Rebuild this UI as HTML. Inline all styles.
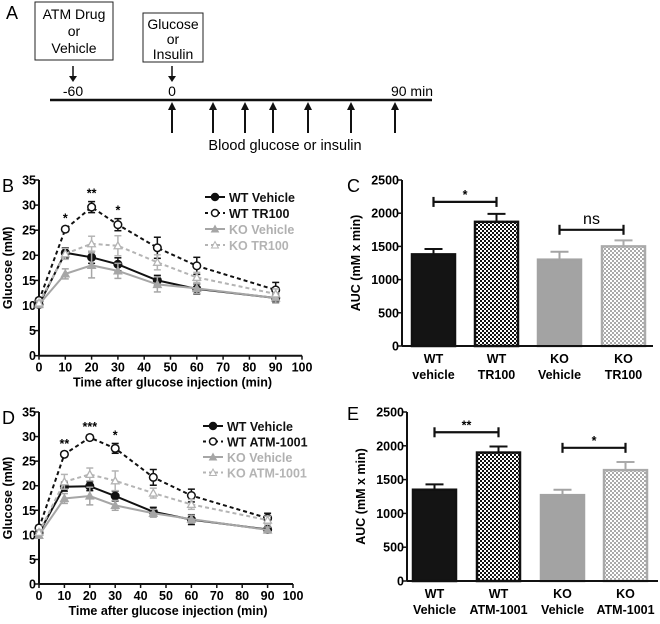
<!DOCTYPE html>
<html><head><meta charset="utf-8"><style>
body{margin:0;background:#fff;}
svg{display:block;font-family:"Liberation Sans",Arial,sans-serif;}
.t{font-weight:bold;font-size:12.5px;}
</style></head><body>
<svg id="fig" width="660" height="624" viewBox="0 0 660 624">
<defs>
<pattern id="chkB" width="4" height="4" patternUnits="userSpaceOnUse"><rect width="4" height="4" fill="#fff"/><rect width="2" height="2" fill="#111"/><rect x="2" y="2" width="2" height="2" fill="#111"/></pattern>
<pattern id="chkG" width="4" height="4" patternUnits="userSpaceOnUse"><rect width="4" height="4" fill="#fff"/><rect width="2" height="2" fill="#aaa"/><rect x="2" y="2" width="2" height="2" fill="#aaa"/></pattern>
</defs>
<g>
<text x="6" y="19" font-size="18">A</text>
<rect x="35" y="2" width="78" height="58" fill="none" stroke="#222"/>
<text x="74" y="19" font-size="14" text-anchor="middle">ATM Drug</text>
<text x="74" y="36" font-size="14" text-anchor="middle">or</text>
<text x="74" y="53" font-size="14" text-anchor="middle">Vehicle</text>
<rect x="143" y="13" width="60" height="49" fill="none" stroke="#222"/>
<text x="173" y="29" font-size="14" text-anchor="middle">Glucose</text>
<text x="173" y="44" font-size="14" text-anchor="middle">or</text>
<text x="173" y="59" font-size="14" text-anchor="middle">Insulin</text>
<line x1="73" y1="66" x2="73" y2="80" stroke="#111" stroke-width="1.5"/><polygon points="69,76 77,76 73,82" fill="#111"/>
<line x1="172" y1="66" x2="172" y2="80" stroke="#111" stroke-width="1.5"/><polygon points="168,76 176,76 172,82" fill="#111"/>
<text x="73" y="96" font-size="14" text-anchor="middle">-60</text>
<text x="172" y="96" font-size="14" text-anchor="middle">0</text>
<text x="433" y="96" font-size="14" text-anchor="end">90 min</text>
<line x1="50" y1="100" x2="432" y2="100" stroke="#111" stroke-width="2.5"/>
<g id="arrows"></g>
<text x="285" y="150" font-size="14.5" text-anchor="middle">Blood glucose or insulin</text>
</g>
<text x="2" y="192" font-size="18">B</text>
<text x="347" y="192" font-size="18">C</text>
<text x="2" y="424" font-size="18">D</text>
<text x="347" y="420" font-size="18">E</text>
<g id="pb"></g>
<g id="pc"></g>
<g id="pd"></g>
<g id="pe"></g>
</svg>
<script>
const times=[0,10,20,30,45,60,90];
const xTicks=[0,10,20,30,40,50,60,70,80,90,100];
const yTicksG=[0,5,10,15,20,25,30,35];
const yTicksA=[0,500,1000,1500,2000,2500];
const bWtVeh=[10.2,20.5,19.6,18.2,15.0,13.3,11.5];
const bWtVehErr=[0.5,1.0,1.2,1.3,1.0,1.0,0.8];
const bWtTr=[11.0,25.2,29.6,26.1,21.5,17.9,13.1];
const bWtTrErr=[0.5,0.5,1.1,1.2,2.1,1.7,1.5];
const bKoVeh=[10.2,16.3,18.0,16.9,14.2,13.4,11.5];
const bKoVehErr=[0.6,1.0,2.5,1.5,1.5,1.0,1.0];
const bKoTr=[10.5,20.3,22.3,21.9,18.6,15.6,12.3];
const bKoTrErr=[0.5,1.1,1.5,2.0,1.5,1.0,1.0];
const bStars=["*","**","*"];
const bStarTimes=[10,20,30];
const dWtVeh=[10.4,19.8,19.9,17.9,14.7,13.1,11.1];
const dWtVehErr=[0.5,0.9,0.9,1.0,0.9,1.0,0.6];
const dWtAtm=[11.4,26.4,29.8,27.6,21.7,18.0,13.4];
const dWtAtmErr=[0.5,0.5,0.5,1.0,1.6,1.3,1.0];
const dKoVeh=[9.9,17.4,17.9,16.0,14.4,13.2,11.0];
const dKoVehErr=[0.6,1.0,1.8,1.0,0.8,0.8,0.6];
const dKoAtm=[10.5,20.8,22.3,21.0,18.5,16.2,13.0];
const dKoAtmErr=[0.5,1.5,1.3,2.0,1.0,1.0,0.8];
const dStars=["**","***","*"];
const dStarTimes=[10,20,30];
const cCats=[["WT","vehicle"],["WT","TR100"],["KO","Vehicle"],["KO","TR100"]];
const cVals=[1380,1870,1300,1500];
const cErr=[80,120,120,90];
const eCats=[["WT","Vehicle"],["WT","ATM-1001"],["KO","Vehicle"],["KO","ATM-1001"]];
const eVals=[1350,1900,1270,1640];
const eErr=[80,90,80,120];

const NS="http://www.w3.org/2000/svg";
function mk(p,tag,a,txt){const e=document.createElementNS(NS,tag);for(const k in a)e.setAttribute(k,a[k]);if(txt!==undefined)e.textContent=txt;p.appendChild(e);return e;}

// timeline arrows (schematic, not to scale)
const ar=document.getElementById('arrows');
[172,213,245,273,308,351,395].forEach(x=>{
  const g=mk(ar,'g',{});
  
  
  mk(g,'line',{x1:x,y1:133,x2:x,y2:108,stroke:'#111','stroke-width':2});
  mk(g,'polygon',{points:`${x-4},110 ${x+4},110 ${x},102`,fill:'#111'});
});

function lineChart(gid,o){
  const g=document.getElementById(gid);
  const X=v=>o.x0+v*(o.x1-o.x0)/100, Y=v=>o.y0-v*(o.y0-o.y1)/35;
  const ax=mk(g,'g',{});
  
  mk(ax,'line',{x1:o.x0,y1:o.y0,x2:o.x1,y2:o.y0,stroke:'#111','stroke-width':2});
  xTicks.forEach(t=>{mk(ax,'line',{x1:X(t),y1:o.y0,x2:X(t),y2:o.y0+4,stroke:'#111','stroke-width':1.5});
    const tl=mk(ax,'text',{x:X(t),y:o.y0+16,'text-anchor':'middle',class:'t'},t);
    });
  const ay=mk(g,'g',{});
  
  mk(ay,'line',{x1:o.x0,y1:o.y0,x2:o.x0,y2:o.y1,stroke:'#111','stroke-width':2});
  yTicksG.forEach(t=>{mk(ay,'line',{x1:o.x0-4,y1:Y(t),x2:o.x0,y2:Y(t),stroke:'#111','stroke-width':1.5});
    const tl=mk(ay,'text',{x:o.x0-3,y:Y(t)+4.5,'text-anchor':'end',class:'t'},t);
    });
  const xt=mk(g,'text',{x:(o.x0+o.x1)/2+2,y:o.y0+31,'text-anchor':'middle',class:'t','font-size':'13.5'},'Time after glucose injection (min)');
  
  const yt=mk(g,'text',{x:0,y:0,transform:`translate(${o.x0-27},${Y(17.5)}) rotate(-90)`,'text-anchor':'middle',class:'t','font-size':'13.5'},'Glucose (mM)');
  
  o.series.forEach((s,si)=>{
    const sg=mk(g,'g',{});
    
    
    const pts=times.map((t,i)=>X(t)+','+Y(s.v[i])).join(' ');
    mk(sg,'polyline',{points:pts,fill:'none',stroke:s.c,'stroke-width':2,'stroke-dasharray':s.dash?'4,3':'none'});
    times.forEach((t,i)=>{
      const x=X(t),yt2=Y(s.v[i]+s.e[i]),yb=Y(s.v[i]-s.e[i]);
      mk(sg,'line',{x1:x,y1:yt2,x2:x,y2:yb,stroke:s.c,'stroke-width':1.5});
      mk(sg,'line',{x1:x-3.5,y1:yt2,x2:x+3.5,y2:yt2,stroke:s.c,'stroke-width':1.5});
      mk(sg,'line',{x1:x-3.5,y1:yb,x2:x+3.5,y2:yb,stroke:s.c,'stroke-width':1.5});
      let m;
      const y=Y(s.v[i]);
      if(s.m==='c') m=mk(sg,'circle',{cx:x,cy:y,r:3.8,fill:s.fill?s.c:'#fff',stroke:s.c,'stroke-width':1.5});
      else m=mk(sg,'polygon',{points:`${x-3.8},${y+3} ${x+3.8},${y+3} ${x},${y-3.8}`,fill:s.fill?s.c:'#fff',stroke:s.c,'stroke-width':1.3});
      
    });
    const ly=o.ly+si*o.lstep;
    const lg=mk(g,'g',{});
    
    mk(lg,'line',{x1:o.lx,y1:ly,x2:o.lx+20,y2:ly,stroke:s.c,'stroke-width':2,'stroke-dasharray':s.dash?'3,3':'none'});
    const cx=o.lx+10;
    if(s.m==='c') mk(lg,'circle',{cx:cx,cy:ly,r:3.5,fill:s.fill?s.c:'#fff',stroke:s.c,'stroke-width':1.5});
    else mk(lg,'polygon',{points:`${cx-3.5},${ly+3} ${cx+3.5},${ly+3} ${cx},${ly-3.5}`,fill:s.fill?s.c:'#fff',stroke:s.c});
    mk(lg,'text',{x:o.lx+24,y:ly+5,class:'t','font-size':'14.5',fill:s.tc},s.name);
  });
  o.stars.forEach((st,i)=>{
    const t=o.starT[i];
    const idx=times.indexOf(t);
    const top=o.series[1].v[idx]+o.series[1].e[idx];
    const s=mk(g,'text',{x:X(t),y:Y(top)-4,'text-anchor':'middle',class:'t','font-size':'15'},st);
    
  });
}
lineChart('pb',{x0:39,x1:302,y0:355.7,y1:180,lx:205,ly:197,lstep:16,stars:bStars,starT:bStarTimes,series:[
 {name:'WT Vehicle',v:bWtVeh,e:bWtVehErr,c:'#111',tc:'#111',m:'c',fill:true,dash:false},
 {name:'WT TR100',v:bWtTr,e:bWtTrErr,c:'#111',tc:'#111',m:'c',fill:false,dash:true},
 {name:'KO Vehicle',v:bKoVeh,e:bKoVehErr,c:'#a6a6a6',tc:'#b0b0b0',m:'t',fill:true,dash:false},
 {name:'KO TR100',v:bKoTr,e:bKoTrErr,c:'#b4b4b4',tc:'#b4b4b4',m:'t',fill:false,dash:true}]});
lineChart('pd',{x0:39,x1:293,y0:584,y1:412,lx:203,ly:426,lstep:15.5,stars:dStars,starT:dStarTimes,series:[
 {name:'WT Vehicle',v:dWtVeh,e:dWtVehErr,c:'#111',tc:'#111',m:'c',fill:true,dash:false},
 {name:'WT ATM-1001',v:dWtAtm,e:dWtAtmErr,c:'#111',tc:'#111',m:'c',fill:false,dash:true},
 {name:'KO Vehicle',v:dKoVeh,e:dKoVehErr,c:'#a6a6a6',tc:'#b0b0b0',m:'t',fill:true,dash:false},
 {name:'KO ATM-1001',v:dKoAtm,e:dKoAtmErr,c:'#b4b4b4',tc:'#b4b4b4',m:'t',fill:false,dash:true}]});

function barChart(gid,o){
  const g=document.getElementById(gid);
  const Y=v=>o.y0-v*(o.y0-o.y1)/2500;
  const ay=mk(g,'g',{});
  
  mk(ay,'line',{x1:o.x0,y1:o.y0,x2:o.x0,y2:o.y1,stroke:'#111','stroke-width':2});
  yTicksA.forEach(t=>{mk(ay,'line',{x1:o.x0-4,y1:Y(t),x2:o.x0,y2:Y(t),stroke:'#111','stroke-width':1.5});
    const tl=mk(ay,'text',{x:o.x0-3,y:Y(t)+4.5,'text-anchor':'end',class:'t'},t);
    });
  const yt=mk(g,'text',{x:0,y:0,transform:`translate(${o.x0-42},${Y(1250)}) rotate(-90)`,'text-anchor':'middle',class:'t','font-size':'13.5'},'AUC (mM x min)');
  
  const fills=['#141414','url(#chkB)','#a3a3a3','url(#chkG)'];
  const strokes=['#111','#111','#a3a3a3','#aaa'];
  const centers=[];
  o.vals.forEach((v,i)=>{
    const bx=o.bx[i],w=o.bw,cx=bx+w/2;centers.push(cx);
    const b=mk(g,'rect',{x:bx,y:Y(v),width:w,height:o.y0-Y(v),fill:fills[i],stroke:strokes[i],'stroke-width':2.5});
    
    const et=Y(v+o.err[i]);
    mk(g,'line',{x1:cx,y1:Y(v),x2:cx,y2:et,stroke:strokes[i],'stroke-width':2});
    mk(g,'line',{x1:cx-9,y1:et,x2:cx+9,y2:et,stroke:strokes[i],'stroke-width':2});
    const l1=mk(g,'text',{x:cx,y:o.y0+17,'text-anchor':'middle',class:'t','font-size':'14'},o.cats[i][0]);
    
    const l2=mk(g,'text',{x:cx,y:o.y0+33,'text-anchor':'middle',class:'t','font-size':'14'},o.cats[i][1]);
    
  });
  const ax=mk(g,'line',{x1:o.x0,y1:o.y0,x2:o.xe,y2:o.y0,stroke:'#111','stroke-width':2});
  
  o.brk.forEach(b=>{
    const bg=mk(g,'g',{});
    
    const x1=centers[b.a],x2=centers[b.b],y=Y(b.v);
    mk(bg,'line',{x1:x1,y1:y,x2:x2,y2:y,stroke:'#111','stroke-width':2.2});
    mk(bg,'line',{x1:x1,y1:y-5,x2:x1,y2:y+5,stroke:'#111','stroke-width':2.2});
    mk(bg,'line',{x1:x2,y1:y-5,x2:x2,y2:y+5,stroke:'#111','stroke-width':2.2});
    mk(bg,'text',{x:(x1+x2)/2,y:b.t==='ns'?y-6:y-3,'text-anchor':'middle',class:b.t==='ns'?'':'t','font-size':b.t==='ns'?'16':'13'},b.t);
  });
}
barChart('pc',{x0:402,xe:653,y0:346,y1:180,bx:[412,475,538,602],bw:43,vals:cVals,err:cErr,cats:cCats,
  brk:[{a:0,b:1,v:2170,t:'*'},{a:2,b:3,v:1750,t:'ns'}]});
barChart('pe',{x0:407,xe:658,y0:581,y1:412,bx:[413,477,541,604],bw:43,vals:eVals,err:eErr,cats:eCats,
  brk:[{a:0,b:1,v:2200,t:'**'},{a:2,b:3,v:1970,t:'*'}]});
</script>
</body></html>
